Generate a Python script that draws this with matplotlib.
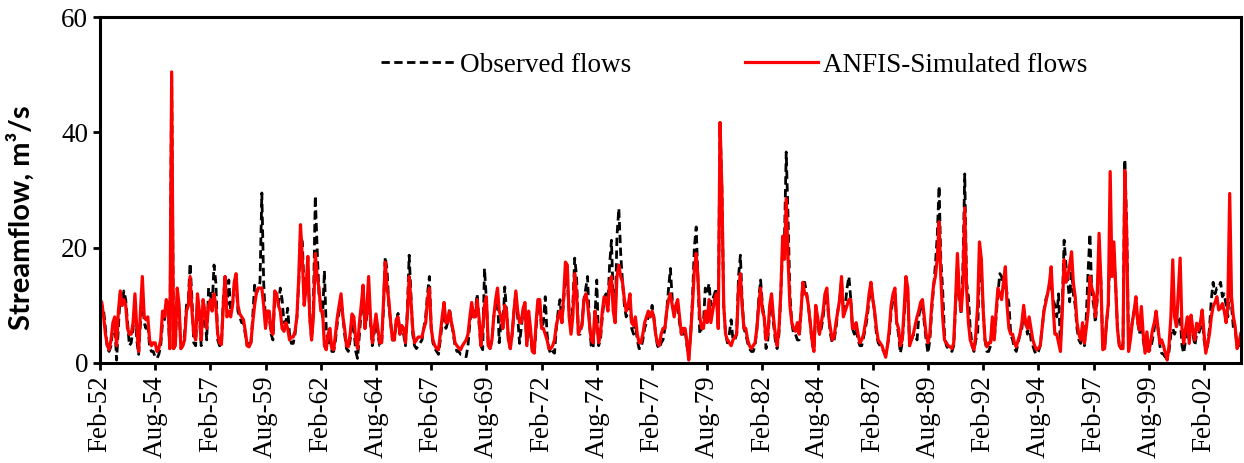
import matplotlib
matplotlib.use('Agg')

import matplotlib.pyplot as plt
import pandas as pd

# monthly streamflow (m3/s), Feb 1952 onwards, 12 values per row
observed = [
    11, 10, 9, 6, 2.5, 2, 3, 6, 7, 0.5, 6, 12,
    10, 12.5, 11, 7, 3, 3.5, 6, 10, 4, 1.5, 7, 13,
    7, 6, 7, 2.8, 2, 2, 1, 0.8, 1.5, 3, 7, 7.5,
    10, 9, 2.5, 50, 2.5, 3, 12, 9, 2.5, 3, 5, 10,
    11, 17.3, 11, 3.5, 3, 11, 8, 3, 9, 8, 4, 13,
    12, 10, 17, 14, 4, 3, 3, 11, 15, 10, 14.4, 9,
    10, 13, 14, 9, 8, 7, 7, 5, 3, 3.4, 3, 8,
    13.5, 12, 13, 14, 29.5, 14, 7, 9, 8, 5, 4, 12,
    11, 10, 13, 11, 7, 7, 9.5, 5, 3.4, 3.4, 5, 8,
    14, 22, 21, 12, 12, 17, 8, 4, 10, 29, 20, 12,
    10, 8, 16, 6, 3, 5, 2, 2, 4, 7, 9, 11,
    8, 5, 2.5, 2, 4, 7, 6, 2, 0.8, 5, 9, 12,
    6, 8, 13, 7, 3, 5, 8, 5, 3, 3, 9, 18.4,
    16, 10, 7, 4, 4, 7, 8.6, 5, 6, 5, 3, 9,
    18.7, 12, 5, 3, 2.5, 3, 3.5, 4, 6, 8, 12, 15,
    6, 3.5, 2.5, 2, 1.5, 4, 7, 10, 6, 7, 9.5, 7,
    5, 3, 2, 2, 1.5, 1.5, 1.2, 1.1, 3, 7, 10, 8,
    9, 12, 7, 3, 2.3, 16.4, 11, 3, 2.5, 4, 8, 10,
    12, 3.5, 7, 6, 13.2, 9, 4, 2.5, 5, 9, 12, 8,
    3.4, 6, 9, 10, 3, 8, 5, 2, 1.5, 6, 10, 10,
    6, 7, 11.5, 5, 2.5, 1.5, 2, 1.7, 6, 9, 11, 7,
    11, 15, 14, 9, 6, 10, 18.2, 15, 5, 5, 7, 11,
    13, 15, 7, 3, 2.5, 8, 14.4, 3, 4, 8, 11, 12,
    10, 17, 21.3, 11, 7, 22, 26.8, 19, 14, 10, 8, 9,
    11, 6, 5, 7, 4, 2.5, 2.5, 4, 6, 7, 8, 8,
    10, 8, 5, 3, 2.5, 3.5, 4, 6, 9, 13, 16.4, 11,
    8, 10, 10, 7, 5, 5, 6, 3, 1, 5, 11, 20,
    23.6, 15, 5, 6, 7, 13, 12, 13.8, 10, 11, 12, 13,
    6, 41.7, 30, 10, 5, 3.5, 5, 7.5, 4, 4, 5, 15,
    18.7, 11, 6, 5, 3.5, 2.5, 2, 2, 3, 6, 11, 14.4,
    10, 8, 2.5, 4, 9, 11, 7, 4, 2.5, 5, 12, 20,
    22, 36.6, 25, 12, 7, 5, 5, 4, 4, 9, 13.8, 14,
    12, 10, 7, 3.5, 2, 9, 7, 5, 6, 8, 11, 12,
    8, 5, 3.5, 4, 6, 9, 11, 14.4, 9, 10, 13, 15,
    11, 6, 5, 6, 4, 3, 3, 4.5, 6, 8, 11, 13,
    11, 9, 5, 3.5, 3, 2.5, 2, 1.5, 3, 5, 9, 11,
    12, 7, 5, 1.7, 3.5, 8, 13, 12, 3, 4, 5, 5,
    4, 8, 10, 10, 7, 4, 1.7, 4, 9, 13, 17, 22,
    30.7, 18, 12.7, 5, 3, 2.5, 2.5, 2, 3, 10, 17, 11,
    8.6, 16, 32.8, 14, 11.5, 6, 3, 2, 4, 5, 18, 16,
    9, 4, 2, 2, 3, 7, 4, 8, 12, 15.5, 15, 13,
    14, 12, 10.3, 5, 4, 2.5, 2, 3.5, 5, 6, 9, 7,
    5, 7, 4, 3, 2, 1.5, 2, 3, 6, 9, 11, 12,
    13, 14, 11, 10, 8, 12, 3, 10, 21.3, 17, 14, 10.6,
    17, 12, 10, 6, 4, 3.4, 5, 3, 8, 16, 22.4, 12,
    10, 7, 11, 19, 14, 3, 2.5, 7, 10, 21, 15, 19,
    13, 6, 3, 2.5, 3.4, 35.3, 24, 3, 5, 7, 9, 10,
    7, 5, 8, 4, 2, 3.5, 2, 2.5, 4, 6, 8, 6,
    3, 1.7, 1.5, 1, 1.1, 2, 5, 6, 5, 6, 8, 8,
    3, 1.7, 4, 6, 4, 7, 5, 3, 5, 5, 6, 8,
    4, 2.3, 3, 6, 11, 14, 12, 13, 13, 14, 11.5, 12,
    10, 8, 15, 10, 6, 5.7, 3, 3, 4,
]

simulated = [
    11, 10.5, 8, 5, 3, 2.3, 4, 7, 8, 3, 9, 12.5,
    10, 11, 10, 6, 5, 5, 7, 12, 6, 2, 9, 15,
    8, 7.5, 8, 4, 3, 3.5, 3.5, 2, 2.5, 4, 9, 8,
    11, 10, 2.5, 50.5, 2.5, 3, 13, 10, 2.5, 3, 4, 9,
    10, 15, 9, 5, 4, 12, 9, 4, 11, 9, 6, 10,
    11, 9, 12, 10, 5, 3.5, 3.2, 10, 15, 8, 9, 8,
    10, 14, 15.5, 10, 8.5, 8, 7.5, 5.5, 3, 2.8, 3.5, 7,
    10, 12, 13, 13, 13, 10, 6, 9, 9, 5.5, 5, 12.5,
    12, 10, 9, 6, 5.5, 7, 6, 4, 4.5, 4.5, 5.5, 8,
    15, 24, 18, 10, 13, 18.5, 8, 4, 8, 19, 15, 13,
    9, 9, 3, 2.3, 5, 6, 2.5, 2.3, 5, 8, 10, 12,
    8, 6, 3, 2.8, 5, 8.5, 8, 4, 2.5, 7, 10, 13.5,
    6, 9, 15, 8, 3.5, 6, 8.5, 6, 3.5, 3.5, 10, 17.5,
    13, 11, 7, 4, 4, 7.5, 8, 5, 6.5, 6, 3.5, 8,
    15, 11, 6, 3.5, 4, 4.5, 4.5, 4.5, 6, 7, 11, 13,
    6, 4, 3, 2.5, 2.3, 5, 8, 10.5, 7, 7, 9, 7,
    5.5, 3.5, 3, 2.6, 2.3, 3, 3.5, 4, 5, 8, 10.5, 8,
    8, 11, 8, 3, 6, 10, 11.5, 3, 2.5, 4, 8, 11,
    13, 9, 8, 6, 10, 9, 4, 2.5, 5, 9, 12.5, 9,
    7, 7, 9.5, 10.5, 3, 9, 6, 2, 1.7, 7, 11, 11,
    6, 6, 5, 4, 2.5, 2.5, 3, 4, 6.5, 8, 9, 7,
    12, 17.5, 17, 8, 5, 8, 15.5, 12, 5, 6, 6.5, 11,
    12, 10.5, 7, 4, 3.5, 9, 7, 3.5, 5, 9, 11.5, 11,
    9, 14, 15, 9, 7, 15, 17, 15, 14, 11, 9, 10,
    12, 7, 6.5, 8, 5, 3.5, 3.5, 5, 7, 8, 9, 8,
    9, 8, 5, 3.5, 3, 5, 6, 6, 9, 11, 12, 10,
    8, 10, 11, 8, 5, 6, 6, 3.5, 0.5, 5, 10, 16,
    19, 15, 8, 6, 6, 9, 7, 11, 7, 9, 11, 12,
    6, 41.7, 30, 10, 5, 4, 3.5, 3, 4, 4.5, 5, 13,
    15.5, 10, 6, 6, 4, 3, 2.5, 3, 3.5, 6, 10, 13,
    9, 8, 4, 5, 10, 12, 8, 5, 3, 6, 12, 22,
    18, 28.5, 18, 10, 7, 6, 5.5, 7, 5, 9, 14, 12,
    12, 10, 7, 4, 2, 10, 8, 5, 7, 9, 12, 13,
    8, 6, 4, 4.5, 7, 9, 11, 15, 8, 9, 10, 11,
    11, 6, 6, 7, 5, 3.5, 4, 5, 7, 9, 12, 14,
    11, 9, 6, 4, 3.5, 3, 2, 1, 3, 6, 10, 12,
    13, 7, 6, 3, 4, 9, 15, 13, 3, 4, 5, 6.5,
    8, 9, 10.5, 11, 8, 5, 3.5, 5, 10, 13.5, 15, 18,
    24.5, 15, 8, 4, 3.5, 3, 2.8, 2.5, 3.5, 11, 19, 12,
    9, 13, 26.9, 13, 7, 4, 3, 2.3, 5, 10, 21, 18,
    9, 4, 2.8, 3.5, 3.5, 8, 4, 9, 13, 12, 11, 14,
    16.7, 10, 6, 5, 5, 3.5, 2.8, 4, 5, 7, 10, 7,
    6, 8, 6, 4, 3, 2.3, 2.5, 3, 6, 9, 10.5, 12,
    14, 16.7, 10, 5, 5, 3.5, 2, 9, 17.9, 14, 15, 17,
    19.3, 14, 11.5, 7, 5, 4, 7, 3.4, 6, 9, 15, 13,
    12, 8, 12, 22.5, 14, 2.3, 2.5, 7, 10.3, 33.2, 15, 21,
    13, 6, 3, 2.5, 2.5, 33.4, 22, 2, 4, 7, 9, 11.5,
    7, 5.7, 9.8, 5, 1.7, 5.4, 2, 3.5, 5.7, 7, 9, 6,
    3.4, 4, 3, 1.7, 0.5, 3, 8, 17.9, 8, 6.3, 12, 18.2,
    6, 3.4, 6, 8, 3.4, 8.3, 5.7, 4, 6.9, 5.7, 7, 9.2,
    5, 1.7, 3.4, 5, 8, 9.8, 10.5, 11.5, 9.2, 9.5, 10.3, 9,
    7, 10, 29.4, 11.5, 8, 6.3, 2.5, 3.5, 5.1,
]

months = pd.date_range('1952-02-01', periods=len(observed), freq='MS')
tick_every = 30  # label every 30 months

plt.rcParams['font.family'] = 'Liberation Serif'

fig = plt.figure(figsize=(12.44, 4.63), dpi=100)
ax = fig.add_axes([0.0804, 0.216, 0.917, 0.747])

ax.plot(months, observed, color='k', linewidth=2.0, linestyle=(0, (3, 1.6)),
        label='Observed flows')
ax.plot(months[:len(simulated)], simulated, color='#ff0000', linewidth=2.3,
        label='ANFIS-Simulated flows')

ax.set_xlim(months[0], months[-1])
ax.set_ylim(0, 60)
ax.set_yticks([0, 20, 40, 60])

ticks = months[::tick_every]
ax.set_xticks(ticks)
ax.set_xticklabels([d.strftime('%b-%y') for d in ticks], rotation=90)

for s in ax.spines.values():
    s.set_linewidth(2.2)
ax.tick_params(axis='both', direction='out', length=5, width=2, labelsize=19.5)
ax.tick_params(axis='x', pad=4)

ax.set_ylabel('Streamflow, m³/s', fontfamily='Lato', fontweight='bold',
              fontsize=21)
ax.yaxis.set_label_coords(-0.057, 0.42)

ax.legend(loc='center', bbox_to_anchor=(0.556, 0.861), ncol=2, frameon=False,
          fontsize=19.5, handlelength=2.7, handletextpad=0.2, columnspacing=4.2)

plt.savefig('out.png', dpi=100)
